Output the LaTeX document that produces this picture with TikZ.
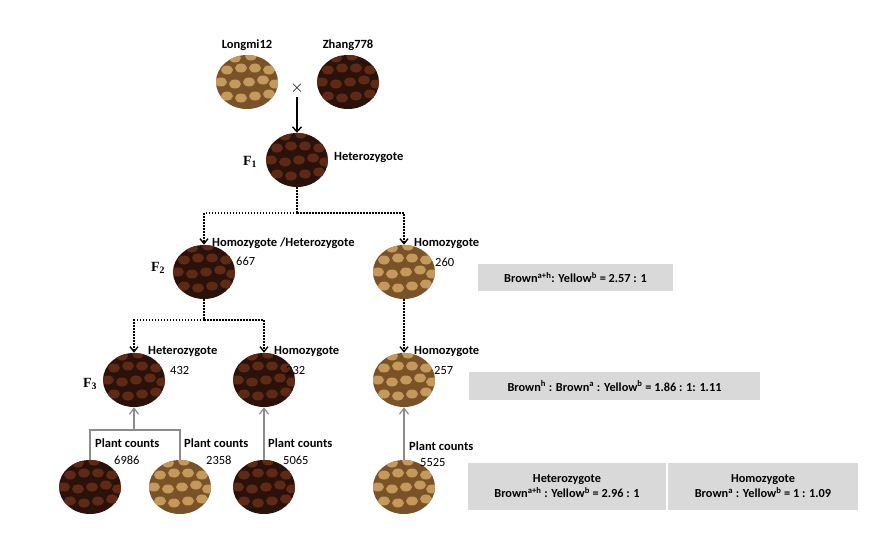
\documentclass[tikz,border=0pt]{standalone}
\usepackage{fontspec}
\setmainfont{Carlito}
\newfontfamily\serifF{Liberation Serif}
\usetikzlibrary{shapes.geometric,arrows.meta}
\definecolor{dk}{HTML}{2A120A}\definecolor{dks}{HTML}{5E2A16}
\definecolor{lt}{HTML}{7A5228}\definecolor{lts}{HTML}{C39A5C}
\definecolor{bx}{HTML}{D9D9D9}\definecolor{ga}{HTML}{8C8C8C}
\newcommand\sps[1]{\textsuperscript{#1}}
\tikzset{
 seedpat/.style={path picture={
  \foreach \dx/\dy/\r in {-20/-14/30,-6/-16/-20,8/-14/40,22/-12/-10,-26/0/10,-12/-2/50,2/0/-30,16/2/20,28/-2/60,-20/12/-40,-6/14/20,8/14/-10,22/12/40,-12/24/0,4/26/30}
   {\fill[#1,rotate around={\r:(path picture bounding box.center)}] ([shift={(\dx pt,\dy pt)}]path picture bounding box.center) ellipse (6pt and 4.5pt);}}},
 dark/.style={ellipse,minimum width=62pt,minimum height=54pt,inner sep=0,fill=dk,seedpat=dks},
 light/.style={ellipse,minimum width=62pt,minimum height=54pt,inner sep=0,fill=lt,seedpat=lts},
 lb/.style={font=\bfseries\fontsize{12.5}{14}\selectfont,inner sep=0},
 num/.style={font=\fontsize{12.5}{14}\selectfont,inner sep=0},
 gen/.style={font=\serifF\bfseries\fontsize{14}{16}\selectfont,inner sep=0},
 dot/.style={line width=1.6pt,dash pattern=on 1.5pt off 1.5pt,-{Straight Barb[length=5pt,width=8pt,line width=1.4pt]}},
 dotl/.style={line width=1.6pt,dash pattern=on 1.5pt off 1.5pt},
 gar/.style={ga,line width=1.2pt,-{Straight Barb[length=6pt,width=9pt]}},
 gl/.style={ga,line width=1.2pt},
 box/.style={fill=bx,font=\bfseries\fontsize{12.3}{15}\selectfont,inner sep=0,align=center},
}
\begin{document}
\begin{tikzpicture}[x=1pt,y=-1pt]
\useasboundingbox (0,0) rectangle (880,535);
\node[light] (p1) at (247,82) {};
\node[dark] (p2) at (348,82) {};
\node[lb] (tp1) at (247,45) {Longmi12};
\node[lb] (tp2) at (348,45) {Zhang778};
\node[font=\fontsize{16}{16}\selectfont] (x) at (297,88) {$\times$};
\node[dark] (f1) at (297,160) {};
\node[gen] at (250,162) {F\textsubscript{1}};
\node[lb,anchor=west] at (334,158) {Heterozygote};
\draw[line width=1.5pt,-{Straight Barb[length=5pt,width=9pt,line width=1.4pt]}] (x.south) -- (f1.north);
\node[dark] (f2a) at (204,272) {};
\node[light] (f2b) at (404,272) {};
\coordinate (j1) at (297,213);
\draw[dotl] (f1.south) -- (j1);
\draw[dot] (j1) -| (f2a.north);
\draw[dot] (j1) -| (f2b.north);
\node[gen] at (158,268) {F\textsubscript{2}};
\node[lb,anchor=west] at (212,243) {Homozygote /Heterozygote};
\node[num,anchor=west] at (236,261) {667};
\node[lb,anchor=west] at (414,244) {Homozygote};
\node[num,anchor=west] at (435,262) {260};
\node[box,minimum width=195pt,minimum height=27pt] at (575.5,277.5) {Brown\sps{a+h}: Yellow\sps{b} = 2.57 : 1};
\node[dark] (f3a) at (134,380) {};
\node[dark] (f3b) at (264,380) {};
\node[light] (f3c) at (404,380) {};
\coordinate (j2) at (204,320);
\draw[dotl] (f2a.south) -- (j2);
\draw[dot] (j2) -| (f3a.north);
\draw[dot] (j2) -| (f3b.north);
\draw[dot] (f2b.south) -- (f3c.north);
\node[gen] at (90,384) {F\textsubscript{3}};
\node[lb,anchor=west] at (148,352) {Heterozygote};
\node[num,anchor=west] at (170,370) {432};
\node[lb,anchor=west] at (274,352) {Homozygote};
\node[num,anchor=west] at (286,370) {232};
\node[lb,anchor=west] at (414,352) {Homozygote};
\node[num,anchor=west] at (434,370) {257};
\node[box,minimum width=291pt,minimum height=28pt] at (614.5,386) {Brown\sps{h} : Brown\sps{a} : Yellow\sps{b} = 1.86 : 1: 1.11};
\node[dark] (b1) at (90,487) {};
\node[light] (b2) at (180,487) {};
\node[dark] (b3) at (264,487) {};
\node[light] (b4) at (404,487) {};
\coordinate (j3) at (134,430);
\draw[gl] (b1.north) -- (90,430) -- (180,430) -- (b2.north);
\draw[gar] (j3) -- (f3a.south);
\draw[gar] (b3.north) -- (f3b.south);
\draw[gar] (b4.north) -- (f3c.south);
\node[lb,anchor=west] at (95,443) {Plant counts};
\node[num,anchor=west] at (114,460) {6986};
\node[lb,anchor=west] at (184,443) {Plant counts};
\node[num,anchor=west] at (206,460) {2358};
\node[lb,anchor=west] at (268,443) {Plant counts};
\node[num,anchor=west] at (283,460) {5065};
\node[lb,anchor=west] at (409,446) {Plant counts};
\node[num,anchor=west] at (420,462) {5525};
\node[box,minimum width=198pt,minimum height=47pt] at (567,486.5) {Heterozygote\\Brown\sps{a+h} : Yellow\sps{b} = 2.96 : 1};
\node[box,minimum width=190pt,minimum height=47pt] at (763,486.5) {Homozygote\\Brown\sps{a} : Yellow\sps{b} = 1 : 1.09};
\end{tikzpicture}
\end{document}
